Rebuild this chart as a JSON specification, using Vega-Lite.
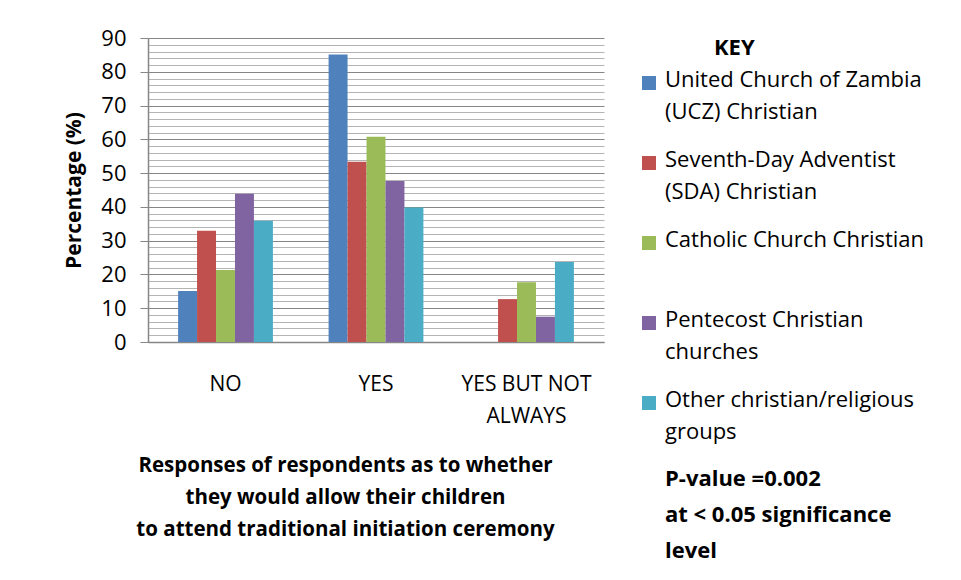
{
  "$schema": "https://vega.github.io/schema/vega-lite/v6.json",
  "autosize": {"type": "none"},
  "padding": {"left": 148, "top": 38, "right": 357, "bottom": 238},
  "width": 456,
  "height": 304,
  "background": "white",
  "title": {
    "text": ["P-value =0.002", "at < 0.05 significance", "level"],
    "anchor": "start",
    "frame": "group",
    "baseline": "top",
    "dx": 517,
    "dy": 540,
    "font": "Open Sans",
    "fontSize": 22,
    "fontWeight": "bold",
    "lineHeight": 36,
    "color": "black"
  },
  "data": {
    "values": [
      {"response": "NO", "group": "United Church of Zambia (UCZ) Christian", "value": 15.1},
      {"response": "NO", "group": "Seventh-Day Adventist (SDA) Christian", "value": 32.9},
      {"response": "NO", "group": "Catholic Church Christian", "value": 21.3},
      {"response": "NO", "group": "Pentecost Christian churches", "value": 43.9},
      {"response": "NO", "group": "Other christian/religious groups", "value": 35.9},
      {"response": "YES", "group": "United Church of Zambia (UCZ) Christian", "value": 85.1},
      {"response": "YES", "group": "Seventh-Day Adventist (SDA) Christian", "value": 53.4},
      {"response": "YES", "group": "Catholic Church Christian", "value": 60.8},
      {"response": "YES", "group": "Pentecost Christian churches", "value": 47.7},
      {"response": "YES", "group": "Other christian/religious groups", "value": 39.8},
      {"response": "YES BUT NOT ALWAYS", "group": "United Church of Zambia (UCZ) Christian", "value": 0},
      {"response": "YES BUT NOT ALWAYS", "group": "Seventh-Day Adventist (SDA) Christian", "value": 12.7},
      {"response": "YES BUT NOT ALWAYS", "group": "Catholic Church Christian", "value": 17.7},
      {"response": "YES BUT NOT ALWAYS", "group": "Pentecost Christian churches", "value": 7.5},
      {"response": "YES BUT NOT ALWAYS", "group": "Other christian/religious groups", "value": 23.7}
    ]
  },
  "mark": {"type": "bar"},
  "encoding": {
    "x": {
      "field": "response",
      "type": "nominal",
      "sort": ["NO", "YES", "YES BUT NOT ALWAYS"],
      "scale": {"paddingInner": 0.37, "paddingOuter": 0.2},
      "axis": {
        "title": ["Responses of respondents as to whether", "they would allow their children", "to attend traditional initiation ceremony"],
        "titleFont": "Open Sans",
        "titleFontSize": 20.5,
        "titleFontWeight": "bold",
        "titleColor": "black",
        "titleLineHeight": 32,
        "titleX": 197,
        "titleY": 113,
        "titleAlign": "center",
        "titleBaseline": "top",
        "labelAngle": 0,
        "labelFont": "Open Sans",
        "labelFontSize": 21,
        "labelColor": "black",
        "labelPadding": 31,
        "labelLineHeight": 32,
        "labelExpr": "datum.label == 'YES BUT NOT ALWAYS' ? ['YES BUT NOT', 'ALWAYS'] : datum.label",
        "ticks": false,
        "domainColor": "#868686",
        "domainWidth": 1.5
      }
    },
    "xOffset": {
      "field": "group",
      "type": "nominal",
      "sort": ["United Church of Zambia (UCZ) Christian", "Seventh-Day Adventist (SDA) Christian", "Catholic Church Christian", "Pentecost Christian churches", "Other christian/religious groups"],
      "scale": {"paddingInner": 0, "paddingOuter": 0}
    },
    "y": {
      "field": "value",
      "type": "quantitative",
      "scale": {"domain": [0, 90], "nice": false},
      "axis": {
        "title": "Percentage (%)",
        "titleFont": "Open Sans",
        "titleFontSize": 21,
        "titleFontWeight": "bold",
        "titleColor": "black",
        "titlePadding": 16,
        "values": [0,2,4,6,8,10,12,14,16,18,20,22,24,26,28,30,32,34,36,38,40,42,44,46,48,50,52,54,56,58,60,62,64,66,68,70,72,74,76,78,80,82,84,86,88,90],
        "labelExpr": "datum.value % 10 === 0 ? datum.label : ''",
        "labelFont": "Open Sans",
        "labelFontSize": 22,
        "labelColor": "black",
        "labelPadding": 14,
        "tickSize": 8,
        "tickColor": "#868686",
        "tickOpacity": {"condition": {"test": "datum.value % 10 === 0", "value": 1}, "value": 0},
        "grid": true,
        "gridColor": {"condition": {"test": "datum.value % 10 === 0", "value": "#868686"}, "value": "#b4b4b4"},
        "gridWidth": 1,
        "domainColor": "#868686",
        "domainWidth": 1.5
      }
    },
    "color": {
      "field": "group",
      "type": "nominal",
      "sort": ["United Church of Zambia (UCZ) Christian", "Seventh-Day Adventist (SDA) Christian", "Catholic Church Christian", "Pentecost Christian churches", "Other christian/religious groups"],
      "scale": {"range": ["#4F81BD", "#C0504D", "#9BBB59", "#8064A2", "#4BACC6"]},
      "legend": {
        "orient": "none",
        "legendX": 490,
        "legendY": 0,
        "title": "KEY",
        "titleFont": "Open Sans",
        "titleFontSize": 22,
        "titleFontWeight": "bold",
        "titleColor": "black",
        "titlePadding": 12,
        "symbolType": "square",
        "symbolSize": 196,
        "symbolStrokeWidth": 0,
        "symbolOpacity": 1,
        "labelFont": "Open Sans",
        "labelFontSize": 22,
        "labelColor": "black",
        "labelLimit": 400,
        "labelOffset": 5,
        "labelBaseline": "top",
        "rowPadding": 26,
        "labelExpr": "datum.label == 'United Church of Zambia (UCZ) Christian' ? ['United Church of Zambia', '(UCZ) Christian'] : datum.label == 'Seventh-Day Adventist (SDA) Christian' ? ['Seventh-Day Adventist', '(SDA) Christian'] : datum.label == 'Catholic Church Christian' ? ['Catholic Church Christian', ' '] : datum.label == 'Pentecost Christian churches' ? ['Pentecost Christian', 'churches'] : ['Other christian/religious', 'groups']",
        "encode": {
          "title": {"update": {"dx": {"value": 76}}},
          "labels": {"update": {"dy": {"value": -13}, "lineHeight": {"value": 32}}}
        }
      }
    }
  },
  "config": {
    "view": {"stroke": null},
    "font": "Open Sans"
  }
}
